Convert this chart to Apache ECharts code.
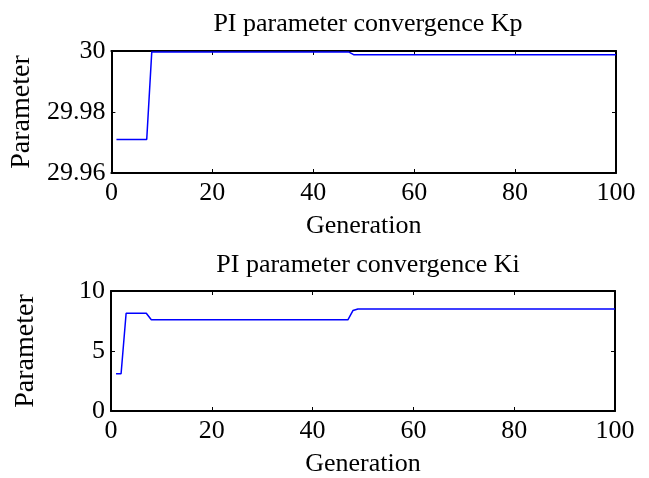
<!DOCTYPE html>
<html>
<head>
<meta charset="utf-8">
<script src="https://cdn.jsdelivr.net/npm/echarts@6/dist/echarts.min.js"></script>
<style>
html,body{margin:0;padding:0;background:#fff;}
#c{width:649px;height:478px;}
</style>
</head>
<body>
<div id="c"></div>
<script>
// Data (vertices of the piecewise-linear convergence curves)
const kpGenerations = [1, 7, 8, 47, 48, 100];
const kpValues = [29.971, 29.971, 29.9997, 29.9997, 29.9988, 29.9988];
const kiGenerations = [1, 2, 3, 7, 8, 47, 48, 49, 100];
const kiValues = [3.1, 3.1, 8.15, 8.15, 7.6, 7.6, 8.37, 8.5, 8.5];
const titles = ['PI parameter convergence Kp', 'PI parameter convergence Ki'];
const xLabel = 'Generation';
const yLabel = 'Parameter';

const FONT = '"Liberation Serif", "Times New Roman", serif';
const FS = 26;

function pairs(xs, ys) { return xs.map((x, i) => [x, ys[i]]); }

const grids = [
  { left: 111, right: 33, top: 51, height: 122 },
  { left: 111, right: 34, top: 291, height: 122 }
];
const yRanges = [
  { min: 29.96, max: 30, interval: 0.02 },
  { min: 0, max: 10, interval: 5 }
];

const xAxes = [], yAxes = [];
grids.forEach((g, i) => {
  xAxes.push({
    type: 'value', gridIndex: i, min: 0, max: 100, interval: 20, position: 'bottom',
    name: xLabel, nameLocation: 'middle', nameGap: 40,
    nameTextStyle: { fontFamily: FONT, fontSize: FS, color: '#000' },
    axisLine: { show: true, onZero: false, lineStyle: { color: '#000', width: 2 } },
    axisTick: { show: true, inside: true, length: 4, lineStyle: { color: '#000', width: 1 } },
    axisLabel: { fontFamily: FONT, fontSize: FS, color: '#000', margin: 7 },
    splitLine: { show: false }
  });
  xAxes.push({
    type: 'value', gridIndex: i, min: 0, max: 100, interval: 20, position: 'top',
    axisLine: { show: true, onZero: false, lineStyle: { color: '#000', width: 2 } },
    axisTick: { show: true, inside: true, length: 4, lineStyle: { color: '#000', width: 1 } },
    axisLabel: { show: false }, splitLine: { show: false }
  });
  yAxes.push({
    type: 'value', gridIndex: i, min: yRanges[i].min, max: yRanges[i].max, interval: yRanges[i].interval,
    position: 'left',
    name: yLabel, nameLocation: 'middle', nameGap: 71, nameRotate: 90,
    nameTextStyle: { fontFamily: FONT, fontSize: 28, color: '#000' },
    axisLine: { show: true, onZero: false, lineStyle: { color: '#000', width: 2 } },
    axisTick: { show: true, inside: true, length: 4, lineStyle: { color: '#000', width: 1 } },
    axisLabel: { fontFamily: FONT, fontSize: FS, color: '#000', margin: 6 },
    splitLine: { show: false }
  });
  yAxes.push({
    type: 'value', gridIndex: i, min: yRanges[i].min, max: yRanges[i].max, interval: yRanges[i].interval,
    position: 'right',
    axisLine: { show: true, onZero: false, lineStyle: { color: '#000', width: 2 } },
    axisTick: { show: true, inside: true, length: 4, lineStyle: { color: '#000', width: 1 } },
    axisLabel: { show: false }, splitLine: { show: false }
  });
});

const chart = echarts.init(document.getElementById('c'), null, { renderer: 'canvas' });
chart.setOption({
  animation: false,
  backgroundColor: '#fff',
  title: [
    { text: titles[0], left: 363, top: 6, textAlign: 'center',
      textStyle: { fontFamily: FONT, fontSize: FS, fontWeight: 'normal', color: '#000' } },
    { text: titles[1], left: 363, top: 247, textAlign: 'center',
      textStyle: { fontFamily: FONT, fontSize: FS, fontWeight: 'normal', color: '#000' } }
  ],
  grid: grids,
  xAxis: xAxes,
  yAxis: yAxes,
  series: [
    { type: 'line', xAxisIndex: 0, yAxisIndex: 0, data: pairs(kpGenerations, kpValues),
      symbol: 'none', lineStyle: { color: '#0000ff', width: 1.5 } },
    { type: 'line', xAxisIndex: 2, yAxisIndex: 2, data: pairs(kiGenerations, kiValues),
      symbol: 'none', lineStyle: { color: '#0000ff', width: 1.5 } }
  ]
});
</script>
</body>
</html>
